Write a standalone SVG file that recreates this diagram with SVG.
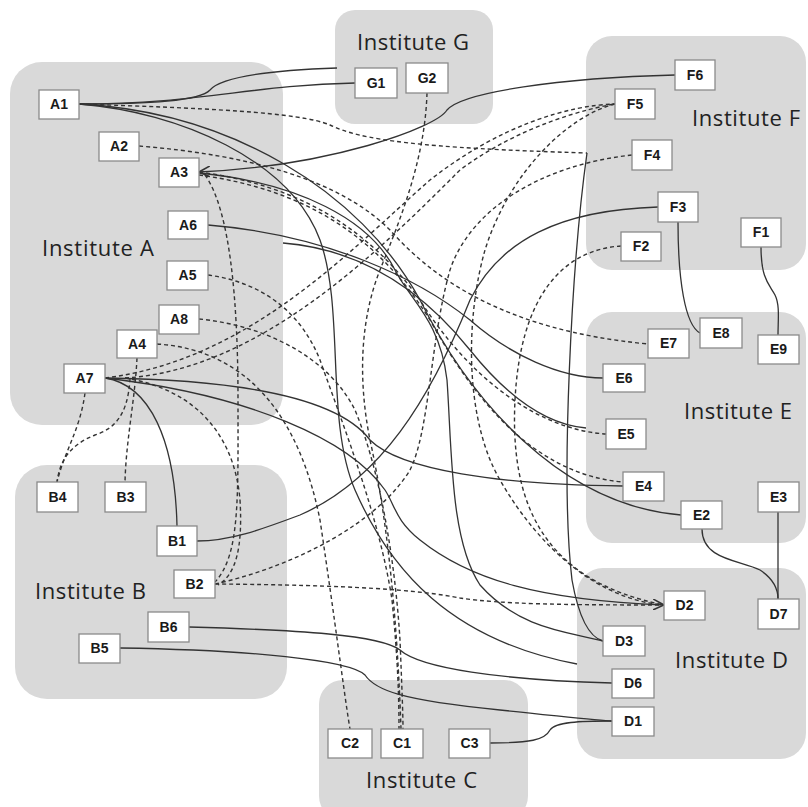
<svg xmlns="http://www.w3.org/2000/svg" width="808" height="807" viewBox="0 0 808 807">
  <style>
    .inst { fill: #d9d9d9; }
    .ilabel { font-family: "Open Sans", "Liberation Sans", sans-serif; font-size: 22px; fill: #222; }
    .node rect { fill: #ffffff; stroke: #8a8a8a; stroke-width: 1.3; }
    .node text { font-family: "Liberation Sans", Arial, sans-serif; font-weight: bold; font-size: 14px; fill: #1a1a1a; text-anchor: middle; }
    .c { fill: none; stroke: #333; stroke-width: 1.3; }
    .d { fill: none; stroke: #333; stroke-width: 1.4; stroke-dasharray: 4 3; }
  </style>
  <defs>
    <marker id="arrow" viewBox="0 0 10 10" refX="10" refY="5" markerWidth="11" markerHeight="11" markerUnits="userSpaceOnUse" orient="auto">
      <path d="M0,0 L10,5 L0,10" fill="none" stroke="#333" stroke-width="1.4"/>
    </marker>
  </defs>
  <rect width="808" height="807" fill="#ffffff"/>

  <!-- institutes -->
  <g id="institute-A"><rect class="inst" x="10" y="62" width="273" height="363" rx="32"/><text class="ilabel" x="42" y="256" textLength="112">Institute A</text></g>
  <g id="institute-G"><rect class="inst" x="335" y="10" width="158" height="114" rx="20"/><text class="ilabel" x="357" y="50" textLength="112">Institute G</text></g>
  <g id="institute-F"><rect class="inst" x="586" y="36" width="220" height="234" rx="26"/><text class="ilabel" x="692" y="126" textLength="108">Institute F</text></g>
  <g id="institute-E"><rect class="inst" x="586" y="312" width="220" height="231" rx="26"/><text class="ilabel" x="684" y="419" textLength="108">Institute E</text></g>
  <g id="institute-B"><rect class="inst" x="15" y="465" width="272" height="234" rx="32"/><text class="ilabel" x="35" y="599" textLength="111">Institute B</text></g>
  <g id="institute-C"><rect class="inst" x="319" y="680" width="209" height="140" rx="24"/><text class="ilabel" x="366" y="788" textLength="111">Institute C</text></g>
  <g id="institute-D"><rect class="inst" x="577" y="568" width="229" height="191" rx="26"/><text class="ilabel" x="675" y="668" textLength="113">Institute D</text></g>

  <!-- connectors -->
  <g id="connectors">
    <!-- solid links -->
    <path class="c" d="M79,104 C150,104 200,101 210,90 C222,76 280,70 337,68"/>
    <path class="c" d="M79,104 C200,104 250,85 355,83"/>
    <path class="c" d="M675,75 C560,78 462,92 447,110 C436,128 330,166 199,172" marker-end="url(#arrow)"/>
    <path class="c" d="M79,104 C230,112 360,190 420,300 C470,400 560,505 681,515"/>
    <path class="c" d="M79,104 C180,112 290,160 320,240 C345,310 325,420 355,490 C390,570 450,640 577,664"/>
    <path class="c" d="M199,173 C300,183 370,220 395,270 C410,300 440,320 447,380 C452,450 450,540 480,585 C520,630 570,632 603,641"/>
    <path class="c" d="M208,225 C330,235 420,280 470,320 C510,355 560,378 603,378"/>
    <path class="c" d="M283,243 C370,250 430,300 470,350 C510,400 550,425 586,428"/>
    <path class="c" d="M658,207 C560,210 500,240 470,300 C430,400 380,480 300,515 C260,530 230,541 197,541"/>
    <path class="c" d="M678,222 C678,280 685,325 700,333"/>
    <path class="c" d="M761,247 C761,280 770,285 775,295 C780,305 778,320 778,335"/>
    <path class="c" d="M702,529 C702,560 740,560 760,570 C775,580 778,590 778,599"/>
    <path class="c" d="M778,512 L778,599"/>
    <path class="c" d="M587,153 C572,260 560,480 572,580 C580,625 592,638 603,641"/>
    <path class="c" d="M105,378 C150,385 175,440 177,526"/>
    <path class="c" d="M105,378 C250,380 340,400 370,440 C400,470 500,485 623,486"/>
    <path class="c" d="M105,378 C250,395 350,440 385,490 C395,505 395,520 420,540 C470,580 540,600 664,605" marker-end="url(#arrow)"/>
    <path class="c" d="M120,648 C250,650 350,660 365,675 C375,690 400,700 500,710 C560,716 600,721 612,721"/>
    <path class="c" d="M189,627 C300,630 380,635 400,650 C420,668 500,680 612,683"/>
    <path class="c" d="M490,743 C530,743 545,740 550,730 C555,722 580,721 612,721"/>
    <!-- dashed links -->
    <path class="d" d="M79,104 C200,108 300,112 330,125 C360,140 420,148 587,153"/>
    <path class="d" d="M139,146 C250,155 340,180 390,230 C430,275 500,330 648,344"/>
    <path class="d" d="M199,172 C300,185 370,230 420,300 C470,380 540,430 606,434"/>
    <path class="d" d="M199,175 C310,190 380,240 430,320 C480,410 540,475 623,482"/>
    <path class="d" d="M205,175 C230,210 238,300 238,400 C238,500 240,555 215,582"/>
    <path class="d" d="M125,378 C200,390 235,440 240,500 C243,550 235,575 218,585"/>
    <path class="d" d="M85,393 C80,430 65,450 57,482"/>
    <path class="d" d="M130,378 C128,420 110,430 95,435 C70,445 60,460 57,482"/>
    <path class="d" d="M137,358 C135,400 126,440 125,482"/>
    <path class="d" d="M105,378 C250,360 350,250 430,180 C500,125 570,105 615,104"/>
    <path class="d" d="M125,378 C260,370 380,250 460,170 C520,125 590,108 615,104"/>
    <path class="d" d="M157,344 C250,350 300,420 320,520 C335,620 345,700 350,729"/>
    <path class="d" d="M208,275 C260,282 300,310 320,360 C345,430 380,520 392,600 C398,660 399,700 399,729"/>
    <path class="d" d="M199,319 C270,326 330,360 355,410 C380,470 395,560 400,640 C402,690 403,715 403,729"/>
    <path class="d" d="M427,93 C425,160 400,220 380,270 C360,320 358,380 370,440 C390,530 398,640 401,729"/>
    <path class="d" d="M615,104 C570,115 510,170 485,250 C465,320 465,420 500,480 C540,550 600,600 664,605"/>
    <path class="d" d="M215,584 C300,565 380,520 410,470 C430,430 430,340 450,270 C470,210 540,165 632,155"/>
    <path class="d" d="M621,246 C560,250 520,300 515,400 C510,500 540,580 664,605"/>
    <path class="d" d="M215,584 C350,585 420,590 460,598 C500,604 560,605 664,605"/>
  </g>

  <!-- nodes -->
  <g id="A1" class="node"><rect x="39" y="90" width="40" height="29"/><text x="59" y="109">A1</text></g>
  <g id="A2" class="node"><rect x="99" y="132" width="40" height="29"/><text x="119" y="151">A2</text></g>
  <g id="A3" class="node"><rect x="159" y="158" width="40" height="29"/><text x="179" y="177">A3</text></g>
  <g id="A6" class="node"><rect x="168" y="211" width="40" height="28"/><text x="188" y="230">A6</text></g>
  <g id="A5" class="node"><rect x="167" y="261" width="41" height="29"/><text x="187.5" y="280">A5</text></g>
  <g id="A8" class="node"><rect x="159" y="305" width="40" height="29"/><text x="179" y="324">A8</text></g>
  <g id="A4" class="node"><rect x="117" y="330" width="40" height="28"/><text x="137" y="349">A4</text></g>
  <g id="A7" class="node"><rect x="64" y="364" width="41" height="29"/><text x="84.5" y="383">A7</text></g>
  <g id="B4" class="node"><rect x="37" y="482" width="41" height="30"/><text x="57.5" y="502">B4</text></g>
  <g id="B3" class="node"><rect x="105" y="482" width="41" height="30"/><text x="125.5" y="502">B3</text></g>
  <g id="B1" class="node"><rect x="157" y="526" width="40" height="30"/><text x="177" y="546">B1</text></g>
  <g id="B2" class="node"><rect x="174" y="570" width="41" height="28"/><text x="194.5" y="589">B2</text></g>
  <g id="B6" class="node"><rect x="148" y="612" width="41" height="30"/><text x="168.5" y="632">B6</text></g>
  <g id="B5" class="node"><rect x="79" y="634" width="41" height="29"/><text x="99.5" y="653">B5</text></g>
  <g id="G1" class="node"><rect x="355" y="68" width="42" height="30"/><text x="376" y="88">G1</text></g>
  <g id="G2" class="node"><rect x="406" y="63" width="42" height="30"/><text x="427" y="83">G2</text></g>
  <g id="F6" class="node"><rect x="675" y="60" width="40" height="30"/><text x="695" y="80">F6</text></g>
  <g id="F5" class="node"><rect x="615" y="89" width="40" height="30"/><text x="635" y="109">F5</text></g>
  <g id="F4" class="node"><rect x="632" y="140" width="40" height="30"/><text x="652" y="160">F4</text></g>
  <g id="F3" class="node"><rect x="658" y="192" width="40" height="30"/><text x="678" y="212">F3</text></g>
  <g id="F2" class="node"><rect x="621" y="232" width="40" height="29"/><text x="641" y="251">F2</text></g>
  <g id="F1" class="node"><rect x="741" y="218" width="40" height="29"/><text x="761" y="237">F1</text></g>
  <g id="E8" class="node"><rect x="700" y="318" width="42" height="30"/><text x="721" y="338">E8</text></g>
  <g id="E7" class="node"><rect x="648" y="329" width="41" height="29"/><text x="668.5" y="348">E7</text></g>
  <g id="E9" class="node"><rect x="758" y="335" width="41" height="29"/><text x="778.5" y="354">E9</text></g>
  <g id="E6" class="node"><rect x="603" y="364" width="42" height="28"/><text x="624" y="383">E6</text></g>
  <g id="E5" class="node"><rect x="606" y="419" width="40" height="30"/><text x="626" y="439">E5</text></g>
  <g id="E4" class="node"><rect x="623" y="472" width="41" height="29"/><text x="643.5" y="491">E4</text></g>
  <g id="E3" class="node"><rect x="758" y="482" width="41" height="30"/><text x="778.5" y="502">E3</text></g>
  <g id="E2" class="node"><rect x="681" y="501" width="41" height="28"/><text x="701.5" y="520">E2</text></g>
  <g id="D2" class="node"><rect x="664" y="591" width="41" height="29"/><text x="684.5" y="610">D2</text></g>
  <g id="D7" class="node"><rect x="758" y="599" width="41" height="30"/><text x="778.5" y="619">D7</text></g>
  <g id="D3" class="node"><rect x="603" y="626" width="42" height="30"/><text x="624" y="646">D3</text></g>
  <g id="D6" class="node"><rect x="612" y="669" width="42" height="29"/><text x="633" y="688">D6</text></g>
  <g id="D1" class="node"><rect x="612" y="707" width="42" height="29"/><text x="633" y="726">D1</text></g>
  <g id="C2" class="node"><rect x="328" y="729" width="44" height="29"/><text x="350" y="748">C2</text></g>
  <g id="C1" class="node"><rect x="381" y="729" width="42" height="29"/><text x="402" y="748">C1</text></g>
  <g id="C3" class="node"><rect x="449" y="729" width="41" height="29"/><text x="469.5" y="748">C3</text></g>
</svg>
